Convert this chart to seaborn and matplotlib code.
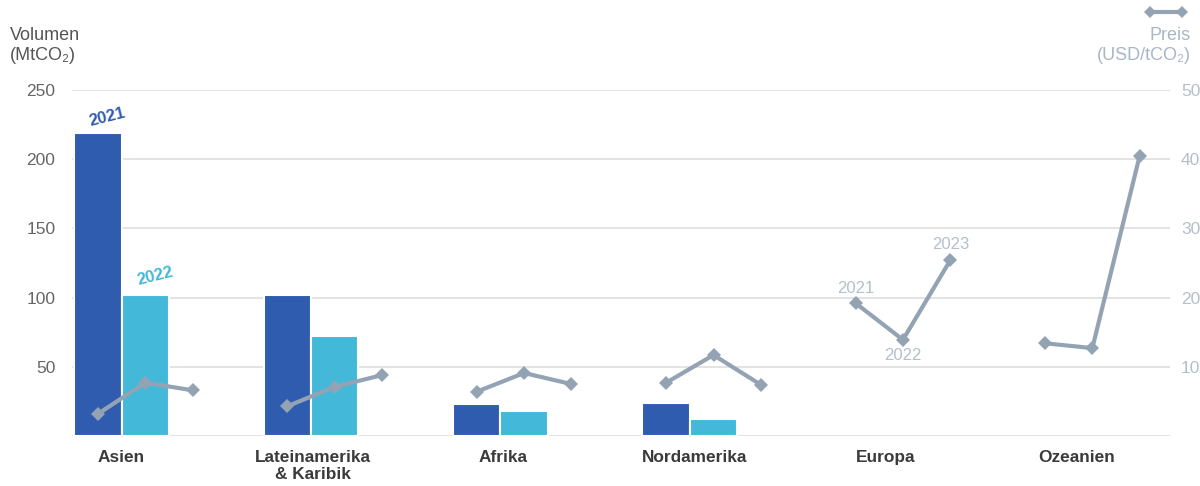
import numpy as np
import pandas as pd
import matplotlib
matplotlib.use("Agg")
import matplotlib.pyplot as plt
import seaborn as sns

# --- data -------------------------------------------------------------
regions = ["Asien", "Lateinamerika\n& Karibik", "Afrika", "Nordamerika", "Europa", "Ozeanien"]
volume_years = ["2021", "2022"]
volume_2021 = [219, 102, 23, 24, np.nan, np.nan]
volume_2022 = [102, 72, 18, 12, np.nan, np.nan]

price_years = ["2021", "2022", "2023"]
price_2021 = [3.2, 4.3, 6.4, 7.7, 19.2, 13.4]
price_2022 = [7.7, 7.1, 9.1, 11.7, 13.9, 12.7]
price_2023 = [6.6, 8.8, 7.5, 7.4, 25.4, 40.5]

left_ticks = [50, 100, 150, 200, 250]
right_ticks = [10, 20, 30, 40, 50]

# --- styling ----------------------------------------------------------
c2021 = "#2f5caf"
c2022 = "#43b8d9"
cline = "#94a3b4"
cgrid = "#dedede"
cright = "#b4bfcc"
cleft = "#666666"

sns.set_theme(style="white")
plt.rcParams["font.family"] = ["Liberation Sans", "DejaVu Sans"]

vol = pd.DataFrame({
    "region": regions * 2,
    "year": [volume_years[0]] * len(regions) + [volume_years[1]] * len(regions),
    "volume": volume_2021 + volume_2022,
})

price_rows = []
bar_step = 0.25  # distance between neighbouring year slots within a region
for i, r in enumerate(regions):
    for j, (y, vals) in enumerate(zip(price_years, [price_2021, price_2022, price_2023])):
        price_rows.append({"region": r, "year": y, "xpos": i + (j - 0.5) * bar_step, "price": vals[i]})
price = pd.DataFrame(price_rows)

XLIM = (-0.262, 5.535)

fig = plt.figure(figsize=(12, 4.86), dpi=100)
ax = fig.add_axes([0.06, 0.1029, 0.915, 0.7119])

sns.barplot(data=vol, x="region", y="volume", hue="year", order=regions,
            hue_order=volume_years, palette=[c2021, c2022], width=0.5,
            edgecolor="white", linewidth=1.5, saturation=1, legend=False, ax=ax, zorder=2)

ax.set_xlim(*XLIM)
ax.set_ylim(0, 250)
ax.set_yticks(left_ticks)
ax.set_yticklabels([str(t) for t in left_ticks], color=cleft, fontsize=12.5)
ax.tick_params(axis="y", length=0, pad=12)
ax.tick_params(axis="x", length=0, pad=10)
# region names spread marginally wider than the bar groups
ax.set_xticks(np.arange(len(regions)) * 1.008)
ax.set_xticklabels(regions, fontsize=12.4, fontweight="bold", color="#3a3a3a")
ax.set_xlabel("")
ax.set_ylabel("")
for s in ax.spines.values():
    s.set_visible(False)
for t in [0] + left_ticks:
    ax.axhline(t, color=cgrid, lw=1.2, zorder=0)

ax2 = ax.twinx()
sns.lineplot(data=price, x="xpos", y="price", units="region", estimator=None,
             color=cline, lw=3, marker="D", markersize=7, markeredgewidth=0,
             sort=False, ax=ax2, zorder=3)
ax2.set_ylim(0, 50)
ax2.set_xlim(*XLIM)
ax2.set_yticks(right_ticks)
ax2.set_yticklabels([str(t) for t in right_ticks], color=cright, fontsize=12.5)
ax2.tick_params(axis="y", length=0, pad=8)
ax2.set_ylabel("")
ax2.set_xlabel("")
for s in ax2.spines.values():
    s.set_visible(False)

# year labels on the Asian bars
ax.text(0 - bar_step / 2 + 0.05, volume_2021[0] + 3, "2021", color=c2021, fontsize=12,
        fontweight="bold", rotation=14, ha="center", va="bottom")
ax.text(0 + bar_step / 2 + 0.05, volume_2022[0] + 5, "2022", color=c2022, fontsize=12,
        fontweight="bold", rotation=14, ha="center", va="bottom")

# year labels on the European price line
ie = regions.index("Europa")
ax2.text(ie - 0.5 * bar_step, price_2021[ie] + 1.0, "2021", color=cright, fontsize=12, ha="center", va="bottom")
ax2.text(ie + 0.5 * bar_step, price_2022[ie] - 1.2, "2022", color=cright, fontsize=12, ha="center", va="top")
ax2.text(ie + 1.5 * bar_step, price_2023[ie] + 1.2, "2023", color=cright, fontsize=12, ha="center", va="bottom")

# axis titles
fig.text(0.008, 0.945, "Volumen\n(MtCO₂)", color="#555555", fontsize=13, ha="left", va="top", linespacing=1.25)
fig.text(0.992, 0.945, "Preis\n(USD/tCO₂)", color="#a9b6c5", fontsize=13, ha="right", va="top", linespacing=1.25)
fig.lines.append(plt.Line2D([0.958, 0.985], [0.975, 0.975], transform=fig.transFigure,
                            color=cline, lw=3, marker="D", markersize=6, markevery=[0, 1],
                            markeredgewidth=0))

fig.savefig("out.png", dpi=100)
